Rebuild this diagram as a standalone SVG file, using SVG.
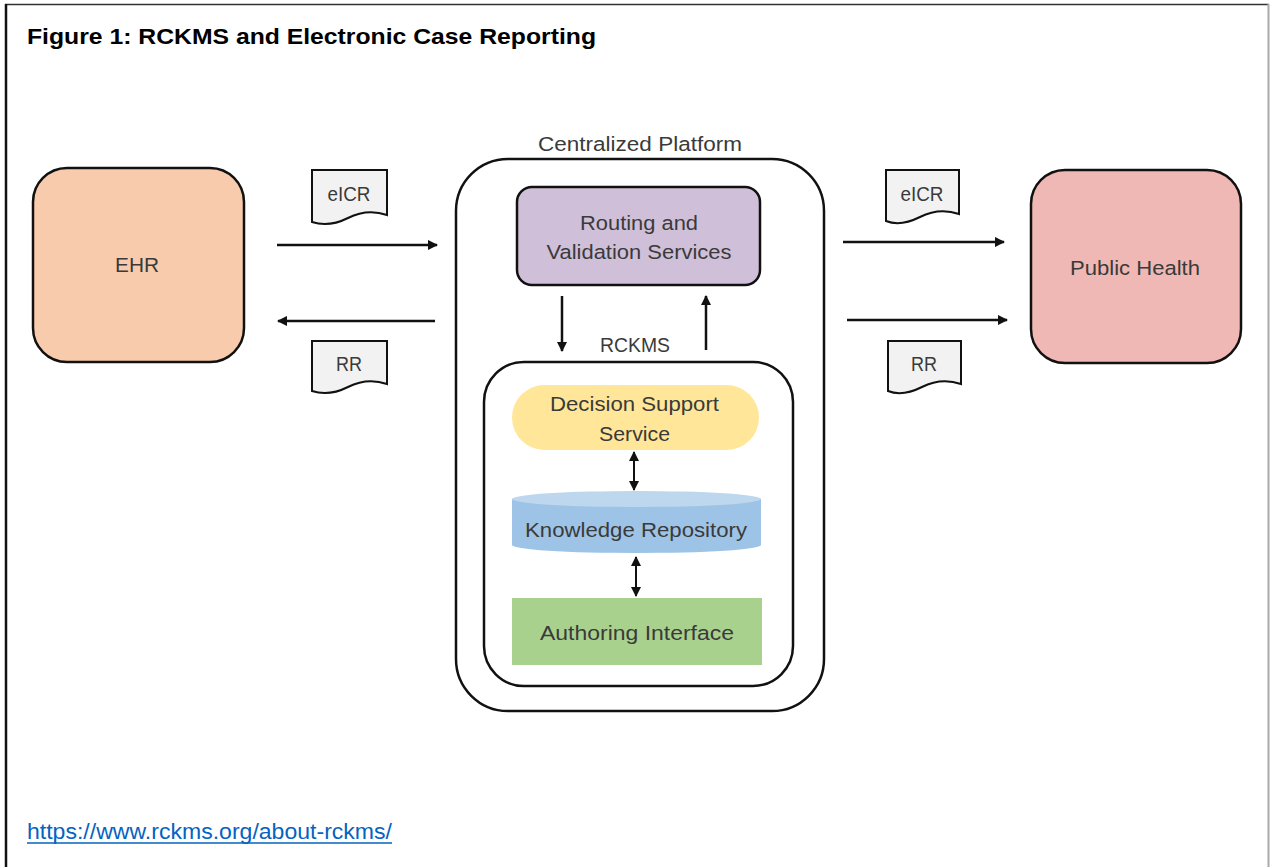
<svg xmlns="http://www.w3.org/2000/svg" width="1270" height="867" viewBox="0 0 1270 867">
<style>
.t{font-family:"Liberation Sans",Arial,sans-serif;fill:#3a3a3a;font-size:20.5px;text-anchor:middle}
.box{stroke:#111;stroke-width:2.5}
.doc{fill:#f2f2f2;stroke:#111;stroke-width:2}
.ln{stroke:#111;stroke-width:2.5;fill:none}
</style>
<defs>
<marker id="ah" viewBox="0 0 10 10" refX="9" refY="5" markerWidth="4.2" markerHeight="4.2" orient="auto-start-reverse" markerUnits="strokeWidth">
<path d="M0,0 L10,5 L0,10 Z" fill="#111"/>
</marker>
<marker id="ahs" viewBox="0 0 10 10" refX="9" refY="5" markerWidth="5" markerHeight="5" orient="auto-start-reverse" markerUnits="strokeWidth">
<path d="M0,0 L10,5 L0,10 Z" fill="#111"/>
</marker>
</defs>
<rect width="1270" height="867" fill="#fff"/>
<g id="frame">
<line x1="5" y1="4.5" x2="1269" y2="4.5" stroke="#333" stroke-width="1.5"/>
<line x1="6" y1="4" x2="6" y2="867" stroke="#111" stroke-width="2.5"/>
<line x1="1268.5" y1="4" x2="1268.5" y2="867" stroke="#aaa" stroke-width="2"/>
</g>
<text id="title" x="27" y="44" font-family="'Liberation Sans',Arial,sans-serif" font-weight="bold" font-size="22" fill="#000" textLength="569" lengthAdjust="spacingAndGlyphs">Figure 1: RCKMS and Electronic Case Reporting</text>

<g id="ehr">
<rect class="box" x="33" y="168" width="211" height="194" rx="34" fill="#f8cbad"/>
<text class="t" x="137" y="272" textLength="44" lengthAdjust="spacingAndGlyphs">EHR</text>
</g>
<g id="public-health">
<rect class="box" x="1031" y="170" width="210" height="193" rx="34" fill="#f0b8b4"/>
<text class="t" x="1135" y="275" textLength="130" lengthAdjust="spacingAndGlyphs">Public Health</text>
</g>

<g id="doc-eicr-left">
<path class="doc" d="M312,170 H387 V215 C372,210 360,212 348,218 C336,224 324,226 312,222 Z"/>
<text class="t" x="349" y="201" textLength="43" lengthAdjust="spacingAndGlyphs">eICR</text>
</g>
<g id="doc-rr-left">
<path class="doc" d="M312,341 H387 V384 C372,379 360,381 348,387 C336,393 324,395 312,391 Z"/>
<text class="t" x="349" y="371" textLength="26" lengthAdjust="spacingAndGlyphs">RR</text>
</g>
<g id="doc-eicr-right">
<path class="doc" d="M886,170 H959 V214 C944,209 932,211 920,217 C908,223 896,225 886,221 Z"/>
<text class="t" x="922" y="201" textLength="43" lengthAdjust="spacingAndGlyphs">eICR</text>
</g>
<g id="doc-rr-right">
<path class="doc" d="M888,341 H961 V384 C946,379 934,381 922,387 C910,393 898,395 888,391 Z"/>
<text class="t" x="924" y="371" textLength="26" lengthAdjust="spacingAndGlyphs">RR</text>
</g>

<g id="centralized-platform">
<rect class="box" x="456" y="159" width="368" height="552" rx="52" fill="#fff"/>
<text class="t" x="640" y="151" textLength="204" lengthAdjust="spacingAndGlyphs">Centralized Platform</text>
</g>
<g id="routing">
<rect class="box" x="517" y="187" width="243" height="98" rx="15" fill="#d0bfd9"/>
<text class="t" x="639" y="230" textLength="118" lengthAdjust="spacingAndGlyphs">Routing and</text>
<text class="t" x="639" y="259" textLength="185" lengthAdjust="spacingAndGlyphs">Validation Services</text>
</g>
<g id="rckms">
<rect class="box" x="484" y="362" width="309" height="324" rx="40" fill="#fff"/>
<text class="t" x="635" y="352" textLength="70" lengthAdjust="spacingAndGlyphs">RCKMS</text>
</g>
<g id="decision-support">
<rect x="512" y="385" width="247" height="65" rx="32.5" fill="#ffe699"/>
<text class="t" x="634.5" y="411" textLength="169" lengthAdjust="spacingAndGlyphs">Decision Support</text>
<text class="t" x="634.5" y="441" textLength="71" lengthAdjust="spacingAndGlyphs">Service</text>
</g>
<g id="knowledge-repository">
<path d="M512,499 V545 A124.5,8 0 0 0 761,545 V499 Z" fill="#9dc3e6"/>
<ellipse cx="636.5" cy="499" rx="124.5" ry="8" fill="#bdd7ee"/>
<text class="t" x="636" y="537" textLength="222" lengthAdjust="spacingAndGlyphs">Knowledge Repository</text>
</g>
<g id="authoring-interface">
<rect x="512" y="598" width="250" height="67" fill="#a9d18e"/>
<text class="t" x="637" y="640" textLength="194" lengthAdjust="spacingAndGlyphs">Authoring Interface</text>
</g>

<g id="connectors">
<line class="ln" x1="277" y1="245" x2="437" y2="245" marker-end="url(#ah)"/>
<line class="ln" x1="435" y1="321" x2="278" y2="321" marker-end="url(#ah)"/>
<line class="ln" x1="843" y1="242" x2="1004" y2="242" marker-end="url(#ah)"/>
<line class="ln" x1="847" y1="320" x2="1007" y2="320" marker-end="url(#ah)"/>
<line class="ln" x1="562" y1="296" x2="562" y2="351" marker-end="url(#ah)"/>
<line class="ln" x1="706" y1="350" x2="706" y2="296" marker-end="url(#ah)"/>
<line x1="634" y1="452" x2="634" y2="490" stroke="#111" stroke-width="2" marker-start="url(#ahs)" marker-end="url(#ahs)"/>
<line x1="636" y1="557" x2="636" y2="596" stroke="#111" stroke-width="2" marker-start="url(#ahs)" marker-end="url(#ahs)"/>
</g>

<g id="link">
<text x="27" y="839" font-family="'Liberation Sans',Arial,sans-serif" font-size="22.5" fill="#0563c1" textLength="365" lengthAdjust="spacingAndGlyphs">https://www.rckms.org/about-rckms/</text>
<line x1="27" y1="843" x2="392" y2="843" stroke="#0563c1" stroke-width="1.5"/>
</g>
</svg>
